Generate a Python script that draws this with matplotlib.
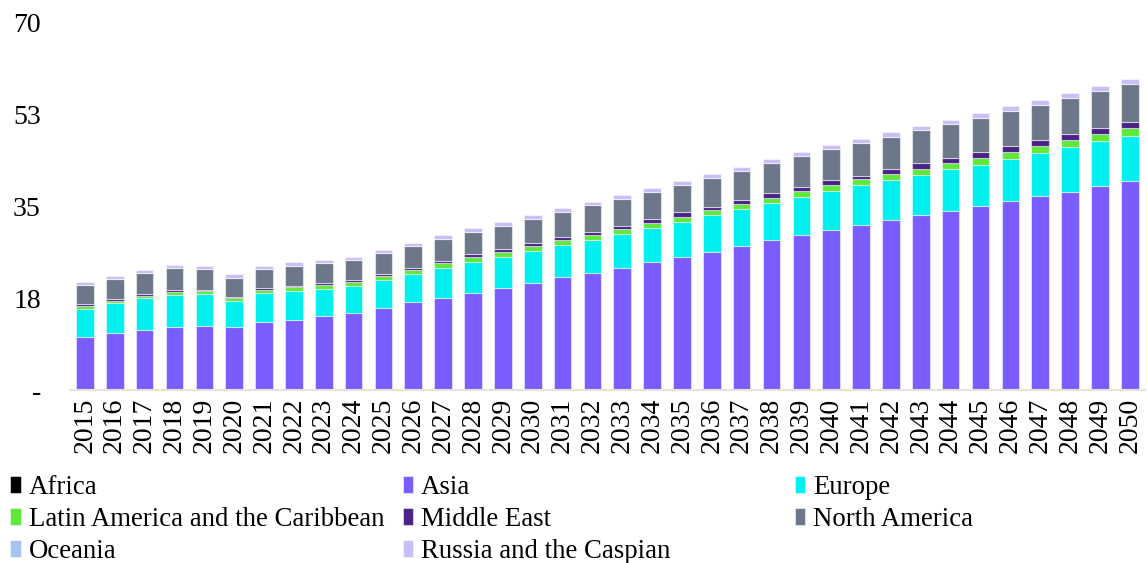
import matplotlib
matplotlib.use("Agg")
import matplotlib.pyplot as plt
import numpy as np

plt.rcParams["font.family"] = ["Liberation Serif", "DejaVu Serif"]

# years on the x axis
years = list(range(2015, 2051))

# stacked values, bottom to top
africa = [0] * 19 + [0.15] * 12 + [0.25] * 2 + [0.35] * 3
asia = [10.19, 10.95, 11.58, 12.15, 12.34, 12.10, 13.10, 13.37, 14.19, 14.82,
        15.77, 16.80, 17.68, 18.63, 19.58, 20.53, 21.62, 22.44, 23.39, 24.27,
        25.34, 26.29, 27.37, 28.46, 29.53, 30.48, 31.37, 32.33, 33.22, 34.10,
        35.05, 35.79, 36.74, 37.52, 38.55, 39.55]
europe = [5.39, 5.66, 5.98, 6.10, 5.98, 5.00, 5.41, 5.58, 5.14, 5.09,
          5.33, 5.45, 5.71, 5.85, 5.90, 6.10, 6.04, 6.29, 6.36, 6.59,
          6.67, 6.93, 6.99, 7.05, 7.18, 7.37, 7.56, 7.49, 7.62, 7.81,
          7.81, 8.06, 8.19, 8.46, 8.50, 8.63]
latam = [0.57, 0.44, 0.50, 0.50, 0.57, 0.51, 0.63, 0.70, 0.70, 0.76,
         0.70, 0.76, 0.84, 0.90, 0.90, 0.90, 0.95, 0.95, 1.00, 0.95,
         0.90, 0.95, 1.00, 1.07, 1.09, 1.14, 1.14, 1.28, 1.20, 1.28,
         1.33, 1.33, 1.39, 1.39, 1.41, 1.41]
middle_east = [0.27, 0.30, 0.38, 0.38, 0.25, 0.25, 0.32, 0.30, 0.44, 0.38,
               0.44, 0.38, 0.50, 0.57, 0.63, 0.63, 0.69, 0.57, 0.63, 0.70,
               0.90, 0.69, 0.82, 0.84, 0.76, 0.90, 0.69, 0.90, 1.09, 0.82,
               1.03, 1.01, 1.01, 1.09, 1.07, 1.14]
north_america = [3.73, 3.87, 4.00, 4.25, 3.94, 3.62, 3.62, 3.81, 3.81, 3.87,
                 4.00, 4.13, 4.19, 4.30, 4.38, 4.57, 4.76, 5.03, 5.14, 5.20,
                 5.14, 5.52, 5.47, 5.64, 5.83, 5.83, 6.23, 6.10, 6.21, 6.48,
                 6.53, 6.67, 6.80, 6.86, 7.05, 7.16]
oceania = [0] * 36
russia = [0.51, 0.63, 0.57, 0.57, 0.63, 0.64, 0.63, 0.65, 0.51, 0.51,
          0.57, 0.51, 0.65, 0.65, 0.65, 0.65, 0.65, 0.63, 0.65, 0.70,
          0.82, 0.76, 0.76, 0.84, 0.90, 0.90, 0.76, 0.88, 0.90, 0.90,
          0.90, 0.95, 0.95, 0.95, 1.03, 0.95]

series = [
    ("Africa", africa, "#000000"),
    ("Asia", asia, "#7b5cff"),
    ("Europe", europe, "#00f0f0"),
    ("Latin America and the Caribbean", latam, "#5ee83a"),
    ("Middle East", middle_east, "#4b2286"),
    ("North America", north_america, "#6c7889"),
    ("Oceania", oceania, "#a3c4f0"),
    ("Russia and the Caspian", russia, "#c9bff7"),
]

yticks = [0, 17.5, 35, 52.5, 70]
ytick_labels = ["-", "18", "35", "53", "70"]

fig = plt.figure(figsize=(11.47, 5.63), dpi=100)
ax = fig.add_axes([0.061, 0.3064, 0.937, 0.6533])

x = np.arange(len(years))
bottom = np.zeros(len(years))
handles = {}
for name, vals, color in series:
    vals = np.array(vals, dtype=float)
    bars = ax.bar(x, vals, 0.59, bottom=bottom, color=color,
                  edgecolor=(1, 1, 1, 0.5), linewidth=0.8, label=name)
    handles[name] = bars
    bottom += vals

ax.set_xlim(-0.5, 35.5)
ax.set_ylim(0, 70)
ax.set_yticks(yticks)
ax.set_yticklabels(ytick_labels, fontsize=20)
ax.set_xticks(x)
ax.set_xticklabels([str(y) for y in years], rotation=90, fontsize=20)
ax.tick_params(axis="y", length=0, pad=21)
ax.tick_params(axis="x", length=0, pad=5)
for s in ["top", "right", "left"]:
    ax.spines[s].set_visible(False)
ax.spines["bottom"].set_color("#e6e2d8")
ax.spines["bottom"].set_linewidth(1.5)

# legend laid out row by row in three equal columns
columns = [
    ["Africa", "Latin America and the Caribbean", "Oceania"],
    ["Asia", "Middle East", "Russia and the Caspian"],
    ["Europe", "North America"],
]
col_x = [0.009, 0.351, 0.693]
for cx, names in zip(col_x, columns):
    fig.legend([handles[n] for n in names], names, loc="upper left",
               bbox_to_anchor=(cx, 0.156), frameon=False, fontsize=19.3,
               handlelength=0.38, handleheight=0.6, handletextpad=0.3,
               labelspacing=0.25, borderaxespad=0, borderpad=0)

fig.savefig("out.png", dpi=100)
